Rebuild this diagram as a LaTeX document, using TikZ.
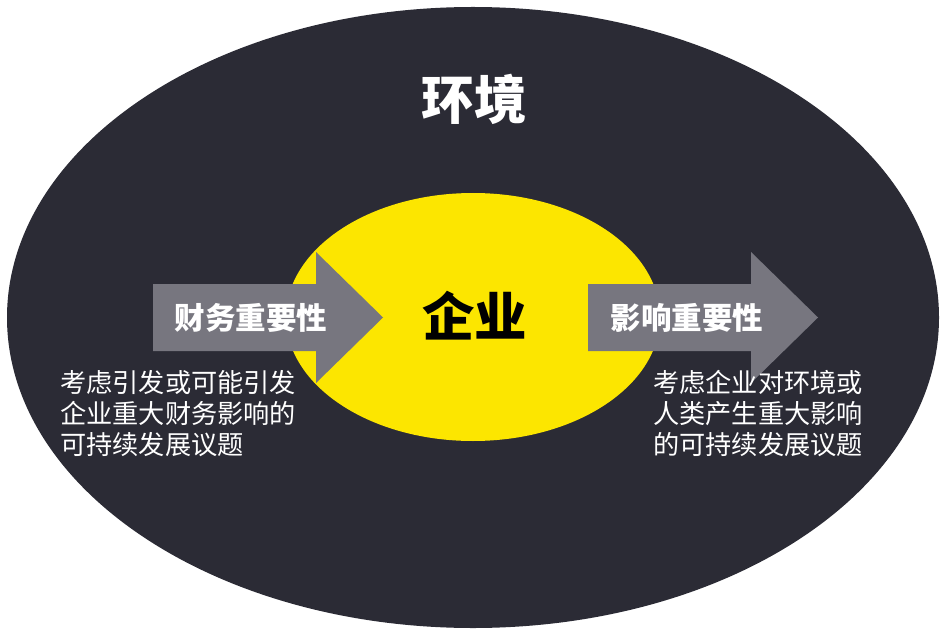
\documentclass[tikz,border=0pt]{standalone}
\usepackage{fontspec}
\newfontfamily\cjk{Noto Sans CJK SC}
\definecolor{envdark}{HTML}{2B2B35}
\definecolor{corpyellow}{HTML}{FCE600}
\definecolor{arrowgray}{HTML}{77767F}
\tikzset{
  bigtitle/.style={font=\cjk\bfseries\fontsize{52.5}{56}\selectfont, inner sep=0pt},
  arrowlabel/.style={font=\cjk\bfseries\fontsize{30.5}{34}\selectfont, text=white, inner sep=0pt},
  desc/.style={font=\cjk\fontsize{26.2}{31}\selectfont, text=white, align=left, inner sep=0pt, anchor=north west},
  arrowshape/.style={fill=arrowgray}
}
\begin{document}
\begin{tikzpicture}[x=1pt,y=-1pt]
\useasboundingbox (0,0) rectangle (949,636);
\fill[envdark] (473,317.5) ellipse [x radius=466, y radius=310.5];
\fill[corpyellow] (473,317) ellipse [x radius=187, y radius=124];
% left arrow
\fill[arrowshape] (153,284) -- (316,284) -- (316,252) -- (383,317.5) -- (316,383) -- (316,351) -- (153,351) -- cycle;
% right arrow
\fill[arrowshape] (588,284) -- (751,284) -- (751,252) -- (818,317.5) -- (751,383) -- (751,351) -- (588,351) -- cycle;
\node[bigtitle, text=white] (env) at (474,99) {环境};
\node[bigtitle, text=black] (corp) at (474.5,316) {企业};
\node[arrowlabel] (fin) at (251,318) {财务重要性};
\node[arrowlabel] (imp) at (687,318) {影响重要性};
\node[desc] (findesc) at (60,370) {考虑引发或可能引发\\企业重大财务影响的\\可持续发展议题};
\node[desc] (impdesc) at (653,370) {考虑企业对环境或\\人类产生重大影响\\的可持续发展议题};
\end{tikzpicture}
\end{document}
